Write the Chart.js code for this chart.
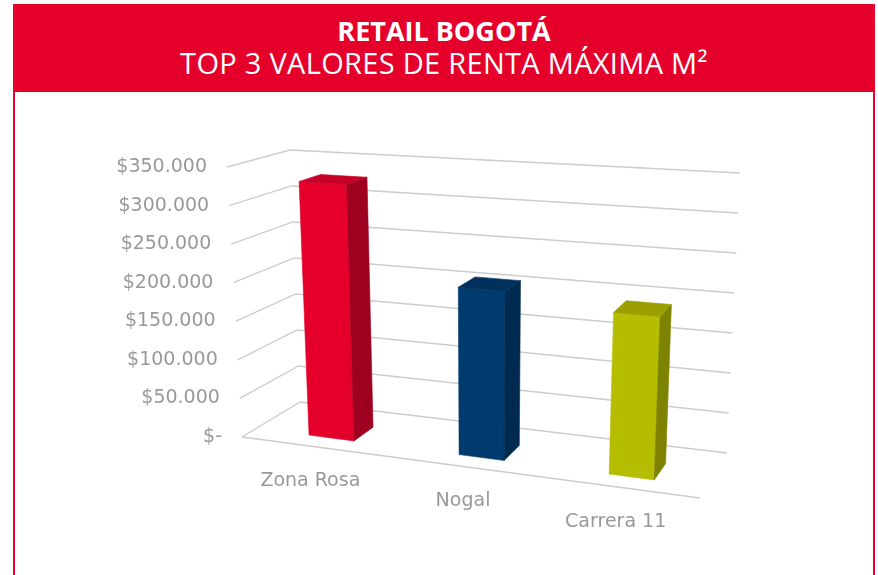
<!DOCTYPE html>
<html>
<head>
<meta charset="utf-8">
<script src="https://cdn.jsdelivr.net/npm/chart.js@4"></script>
<style>
  html, body { margin: 0; padding: 0; background: #fff; width: 878px; height: 575px; overflow: hidden; font-family: "Open Sans", sans-serif; }
  #head { position: absolute; left: 13px; top: 4px; width: 862px; height: 88px; background: #e4002b; color: #fff; text-align: center; }
  #head .t1 { font-weight: 700; font-size: 27px; line-height: 30px; padding-top: 12px; }
  #head .t2 { font-weight: 400; font-size: 29px; line-height: 34px; letter-spacing: 0.3px; }
  #box { position: absolute; left: 13px; top: 92px; width: 858px; height: 500px; border-left: 2px solid #e4002b; border-right: 2px solid #e4002b; }
  #c { position: absolute; left: 0; top: 0; }
</style>
</head>
<body>
<div id="head">
  <div class="t1">RETAIL BOGOTÁ</div>
  <div class="t2">TOP 3 VALORES DE RENTA MÁXIMA M²</div>
</div>
<div id="box"></div>
<canvas id="c" width="878" height="575"></canvas>
<script>
// --- datos ---
const categories = ["Zona Rosa", "Nogal", "Carrera 11"];
const rentValues = [330000, 210000, 196000];
const tickValues = [0, 50000, 100000, 150000, 200000, 250000, 300000, 350000];
const tickLabels = ["$-", "$50.000", "$100.000", "$150.000", "$200.000", "$250.000", "$300.000", "$350.000"];

// colores de cada barra: frente, lado, tapa
const faceColors = [
  ["#e4002b", "#9e001f", "#c70027"],
  ["#003b6f", "#002a50", "#00315c"],
  ["#b5bd00", "#7d8300", "#9aa000"]
];
const labelColor = "#999999";

// caja 3D en pantalla (frente y fondo)
const FRONT = { lb: [242, 437], lt: [227, 167], rb: [700, 498], rt: [714, 198] };
const BACK  = { lb: [300, 402], lt: [290, 150], rb: [727, 453], rt: [740, 173] };
const lerp = (p, q, t) => [p[0] + (q[0] - p[0]) * t, p[1] + (q[1] - p[1]) * t];

// u: fraccion horizontal, f: fraccion de valor, d: profundidad
function P(u, f, d) {
  const lb = lerp(FRONT.lb, BACK.lb, d), lt = lerp(FRONT.lt, BACK.lt, d);
  const rb = lerp(FRONT.rb, BACK.rb, d), rt = lerp(FRONT.rt, BACK.rt, d);
  return lerp(lerp(lb, lt, f), lerp(rb, rt, f), u);
}

function poly(ctx, pts, fill) {
  ctx.beginPath();
  ctx.moveTo(pts[0][0], pts[0][1]);
  pts.slice(1).forEach(p => ctx.lineTo(p[0], p[1]));
  ctx.closePath();
  ctx.fillStyle = fill;
  ctx.strokeStyle = fill;
  ctx.lineWidth = 0.6;
  ctx.fill();
  ctx.stroke();
}

const bar3d = {
  id: "bar3d",
  beforeDatasetsDraw(chart) {
    const ctx = chart.ctx, a = chart.chartArea;
    const xs = chart.scales.x, ys = chart.scales.y;
    const y0 = ys.getPixelForValue(0), yTop = ys.getPixelForValue(ys.max);
    const frac = v => (y0 - ys.getPixelForValue(v)) / (y0 - yTop);
    const uOf = px => (px - a.left) / a.width;

    ctx.save();
    // lineas de la grilla en paredes
    ctx.strokeStyle = "#cccccc";
    ctx.lineWidth = 1.3;
    tickValues.forEach(v => {
      const f = frac(v);
      const p1 = P(0, f, 0), p2 = P(0, f, 1), p3 = P(1, f, 1);
      ctx.beginPath();
      ctx.moveTo(p1[0], p1[1]); ctx.lineTo(p2[0], p2[1]); ctx.lineTo(p3[0], p3[1]);
      ctx.stroke();
    });
    const f0 = P(0, 0, 0), f1 = P(1, 0, 0);
    ctx.beginPath(); ctx.moveTo(f0[0], f0[1]); ctx.lineTo(f1[0], f1[1]); ctx.stroke();

    // etiquetas eje y
    ctx.font = "19px 'DejaVu Sans'";
    ctx.fillStyle = labelColor;
    ctx.textAlign = "right";
    ctx.textBaseline = "middle";
    tickValues.forEach((v, i) => {
      const p = P(0, frac(v), 0);
      ctx.fillText(tickLabels[i], p[0] - 20, p[1]);
    });

    // barras
    const d0 = 0.25, d1 = 0.62;
    chart.getDatasetMeta(0).data.forEach((el, i) => {
      const { x, y, width } = el.getProps(["x", "y", "width"], true);
      const uc = uOf(x), hw = width / 2 / a.width;
      const uL = uc - hw, uR = uc + hw, f = frac(rentValues[i]);
      const c = faceColors[i];
      poly(ctx, [P(uL, 0, d0), P(uR, 0, d0), P(uR, f, d0), P(uL, f, d0)], c[0]);
      poly(ctx, [P(uR, 0, d0), P(uR, 0, d1), P(uR, f, d1), P(uR, f, d0)], c[1]);
      poly(ctx, [P(uL, f, d0), P(uR, f, d0), P(uR, f, d1), P(uL, f, d1)], c[2]);
    });

    // etiquetas categorias
    ctx.fillStyle = labelColor;
    ctx.textAlign = "center";
    categories.forEach((name, i) => {
      const p = P(uOf(xs.getPixelForValue(i)), 0, 0);
      ctx.fillText(name, p[0] - 8, p[1] + 34);
    });
    ctx.restore();
    return false;
  }
};

new Chart(document.getElementById("c").getContext("2d"), {
  type: "bar",
  data: {
    labels: categories,
    datasets: [{ data: rentValues, barPercentage: 0.3, categoryPercentage: 1.0 }]
  },
  options: {
    responsive: false,
    animation: false,
    layout: { padding: { left: 242, right: 178, top: 167, bottom: 138 } },
    plugins: { legend: { display: false }, tooltip: { enabled: false } },
    scales: {
      x: { display: false },
      y: { display: false, min: 0, max: 350000, ticks: { stepSize: 50000 } }
    }
  },
  plugins: [bar3d]
});
</script>
</body>
</html>
